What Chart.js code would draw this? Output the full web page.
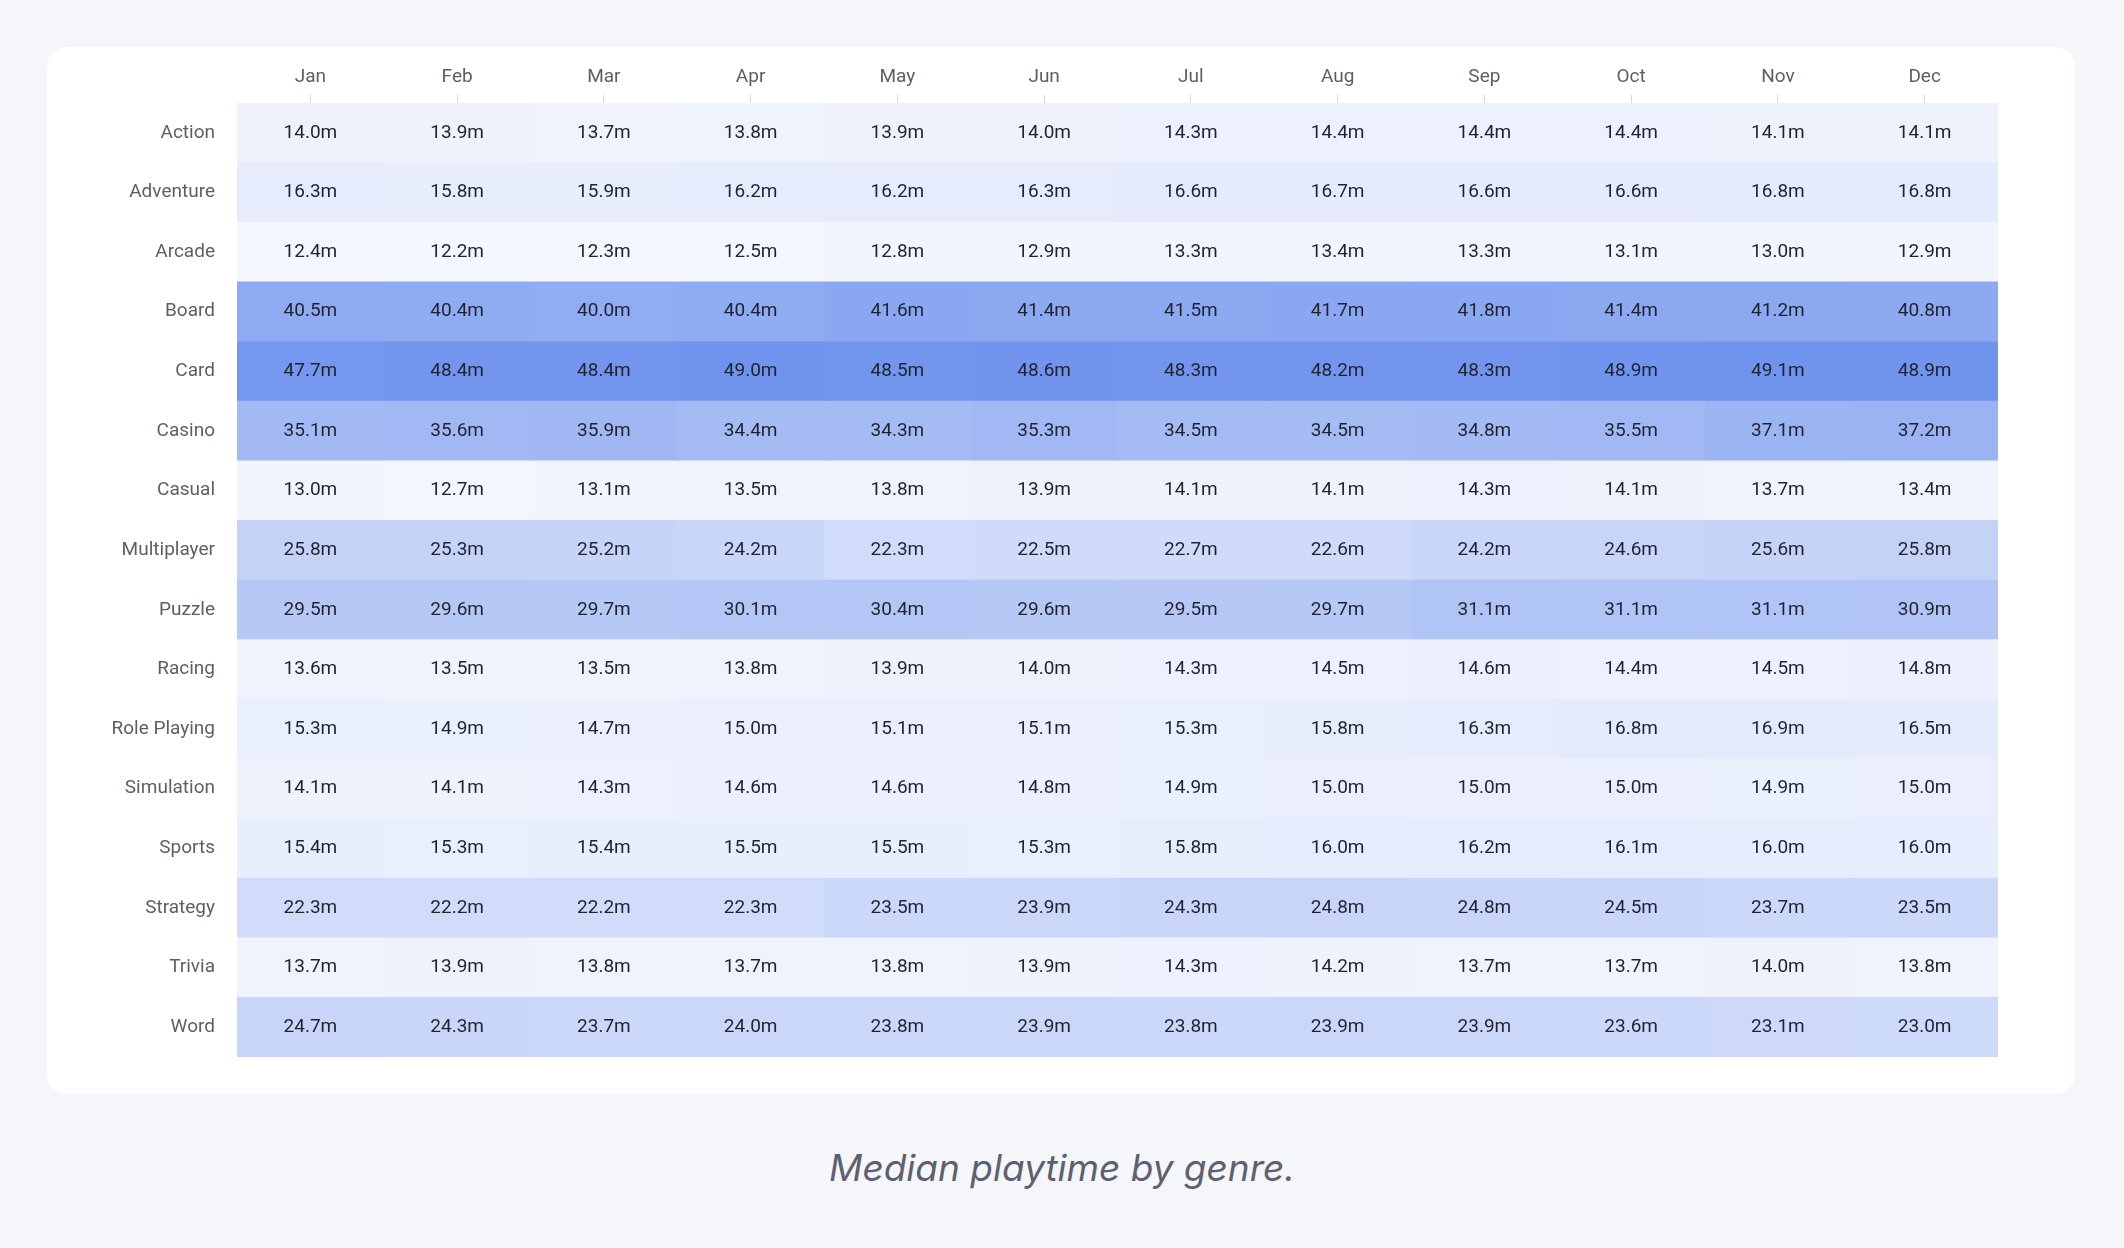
<!DOCTYPE html>
<html>
<head>
<meta charset="utf-8">
<script src="https://cdn.jsdelivr.net/npm/chart.js@4.4.0/dist/chart.umd.min.js"></script>
<style>
  html, body { margin: 0; padding: 0; background: #f5f6f9; width: 2124px; height: 1248px; overflow: hidden; }
  #card { position: absolute; left: 47px; top: 47px; width: 2028px; height: 1047px; background: #fff; border-radius: 20px; }
  #caption { position: absolute; left: 0; width: 2124px; top: 1145px; text-align: center;
    font-family: Inter, "Noto Sans", sans-serif; font-style: italic; font-size: 37px; color: #5c6070; }
</style>
</head>
<body>
<div id="card"><canvas id="chart" width="2028" height="1047"></canvas></div>
<div id="caption">Median playtime by genre.</div>
<script>
const months = ["Jan", "Feb", "Mar", "Apr", "May", "Jun", "Jul", "Aug", "Sep", "Oct", "Nov", "Dec"];
const genres = ["Action", "Adventure", "Arcade", "Board", "Card", "Casino", "Casual", "Multiplayer",
  "Puzzle", "Racing", "Role Playing", "Simulation", "Sports", "Strategy", "Trivia", "Word"];

// median minutes, one row per genre, one column per month
const action      = [14.0, 13.9, 13.7, 13.8, 13.9, 14.0, 14.3, 14.4, 14.4, 14.4, 14.1, 14.1];
const adventure   = [16.3, 15.8, 15.9, 16.2, 16.2, 16.3, 16.6, 16.7, 16.6, 16.6, 16.8, 16.8];
const arcade      = [12.4, 12.2, 12.3, 12.5, 12.8, 12.9, 13.3, 13.4, 13.3, 13.1, 13.0, 12.9];
const board       = [40.5, 40.4, 40.0, 40.4, 41.6, 41.4, 41.5, 41.7, 41.8, 41.4, 41.2, 40.8];
const card        = [47.7, 48.4, 48.4, 49.0, 48.5, 48.6, 48.3, 48.2, 48.3, 48.9, 49.1, 48.9];
const casino      = [35.1, 35.6, 35.9, 34.4, 34.3, 35.3, 34.5, 34.5, 34.8, 35.5, 37.1, 37.2];
const casual      = [13.0, 12.7, 13.1, 13.5, 13.8, 13.9, 14.1, 14.1, 14.3, 14.1, 13.7, 13.4];
const multiplayer = [25.8, 25.3, 25.2, 24.2, 22.3, 22.5, 22.7, 22.6, 24.2, 24.6, 25.6, 25.8];
const puzzle      = [29.5, 29.6, 29.7, 30.1, 30.4, 29.6, 29.5, 29.7, 31.1, 31.1, 31.1, 30.9];
const racing      = [13.6, 13.5, 13.5, 13.8, 13.9, 14.0, 14.3, 14.5, 14.6, 14.4, 14.5, 14.8];
const rolePlaying = [15.3, 14.9, 14.7, 15.0, 15.1, 15.1, 15.3, 15.8, 16.3, 16.8, 16.9, 16.5];
const simulation  = [14.1, 14.1, 14.3, 14.6, 14.6, 14.8, 14.9, 15.0, 15.0, 15.0, 14.9, 15.0];
const sports      = [15.4, 15.3, 15.4, 15.5, 15.5, 15.3, 15.8, 16.0, 16.2, 16.1, 16.0, 16.0];
const strategy    = [22.3, 22.2, 22.2, 22.3, 23.5, 23.9, 24.3, 24.8, 24.8, 24.5, 23.7, 23.5];
const trivia      = [13.7, 13.9, 13.8, 13.7, 13.8, 13.9, 14.3, 14.2, 13.7, 13.7, 14.0, 13.8];
const word        = [24.7, 24.3, 23.7, 24.0, 23.8, 23.9, 23.8, 23.9, 23.9, 23.6, 23.1, 23.0];

const rows = [action, adventure, arcade, board, card, casino, casual, multiplayer,
  puzzle, racing, rolePlaying, simulation, sports, strategy, trivia, word];

const all = rows.flat();
const vMin = Math.min(...all), vMax = Math.max(...all);
const lo = [245, 247, 254], hi = [112, 147, 238];
function cellColor(v) {
  const t = (v - vMin) / (vMax - vMin);
  const c = lo.map((a, k) => Math.round(a + (hi[k] - a) * t));
  return `rgb(${c[0]}, ${c[1]}, ${c[2]})`;
}

// one floating-bar dataset per month, spanning [m, m+1] on the x scale
const datasets = months.map((m, i) => ({
  label: m,
  data: genres.map(() => [i, i + 1]),
  backgroundColor: rows.map(r => cellColor(r[i])),
  borderWidth: 0,
  barPercentage: 1,
  categoryPercentage: 1,
  grouped: false,
}));

const cellLabels = {
  id: "cellLabels",
  afterDatasetsDraw(chart) {
    const ctx = chart.ctx;
    ctx.save();
    ctx.font = "19px Roboto";
    ctx.fillStyle = "#1f2330";
    ctx.textAlign = "center";
    ctx.textBaseline = "middle";
    chart.data.datasets.forEach((ds, i) => {
      chart.getDatasetMeta(i).data.forEach((el, j) => {
        ctx.fillText(rows[j][i].toFixed(1) + "m", (el.x + el.base) / 2, el.y);
      });
    });
    ctx.restore();
  },
};

const ctx = document.getElementById("chart").getContext("2d");

new Chart(ctx, {
  type: "bar",
  data: { labels: genres, datasets: datasets },
  options: {
    indexAxis: "y",
    responsive: false,
    animation: false,
    layout: { padding: { right: 77, bottom: 37 } },
    plugins: { legend: { display: false }, tooltip: { enabled: false } },
    scales: {
      x: { type: "linear", min: 0, max: 12, display: false },
      x2: {
        type: "category",
        labels: months,
        position: "top",
        offset: true,
        grid: { drawOnChartArea: false, tickLength: 8, color: "#d5d8e0" },
        border: { display: false },
        ticks: { color: "#5b5f6b", font: { family: "Roboto", size: 19 }, padding: 6 },
        afterFit: (s) => { s.height = 56; },
      },
      y: {
        grid: { display: false },
        border: { display: false },
        ticks: { color: "#5b5f6b", font: { family: "Roboto", size: 19 }, padding: 14 },
        afterFit: (s) => { s.width = 190; },
      },
    },
  },
  plugins: [cellLabels],
});
</script>
</body>
</html>
